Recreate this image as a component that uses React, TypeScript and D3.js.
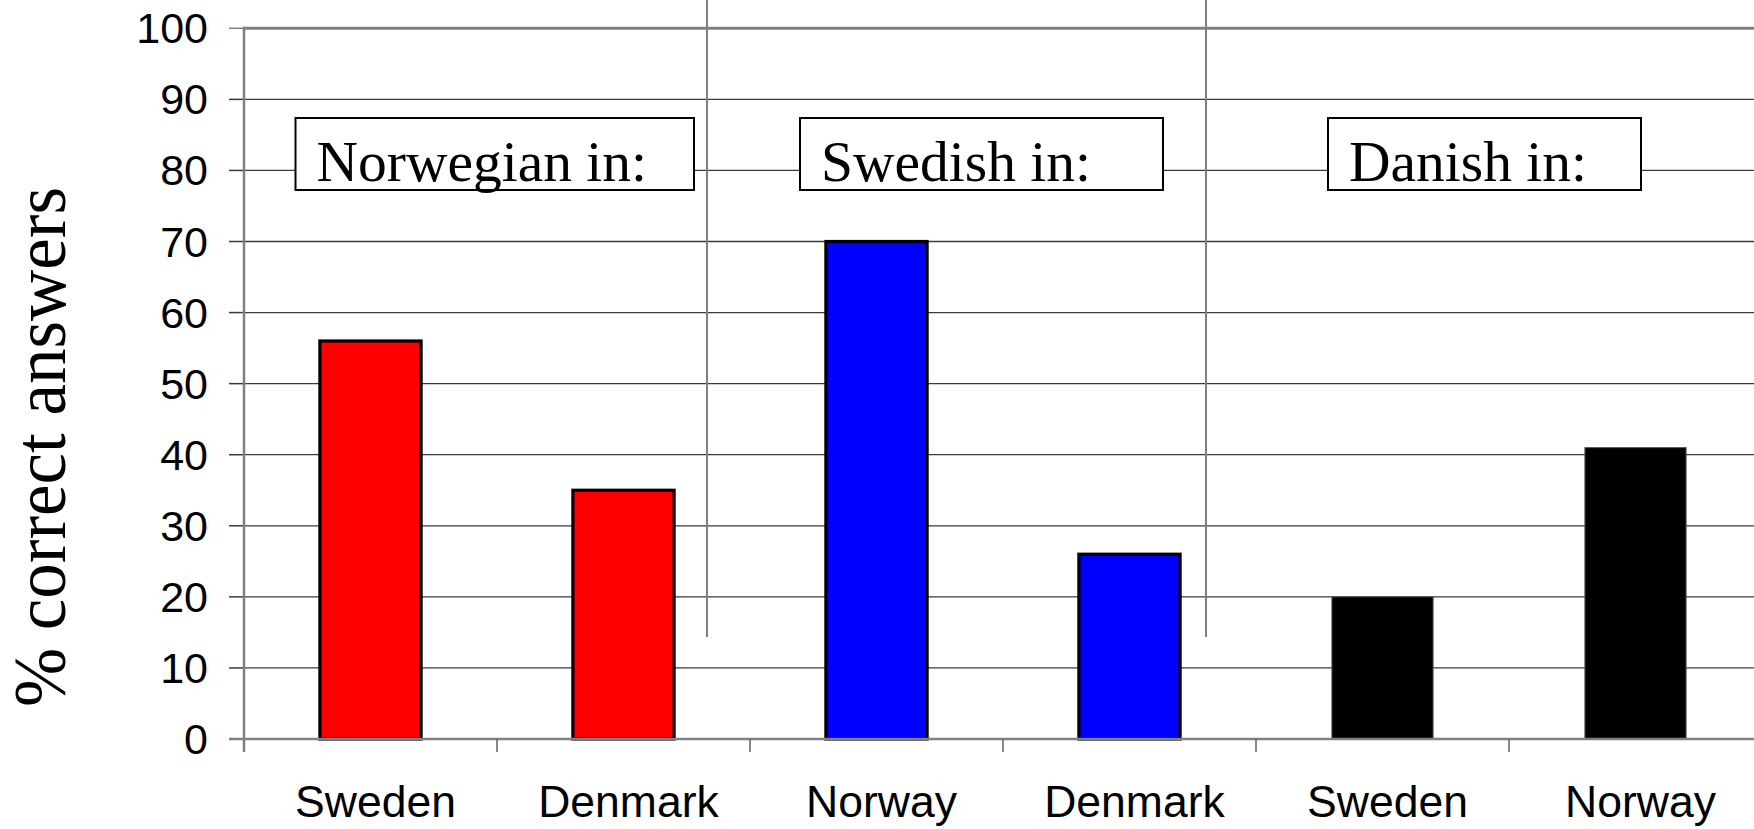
import React from "react";
import * as d3 from "d3";

// ---- data ----
const categories: string[] = ["Sweden", "Denmark", "Norway", "Denmark", "Sweden", "Norway"];
const values: number[] = [56, 35, 70, 26, 20, 41];
const groupOfBar: number[] = [0, 0, 1, 1, 2, 2];
const groupLabels: string[] = ["Norwegian in:", "Swedish in:", "Danish in:"];
const groupColors: string[] = ["#ff0000", "#0000ff", "#000000"];
const yTicks: number[] = [0, 10, 20, 30, 40, 50, 60, 70, 80, 90, 100];
const yTitle = "% correct answers";

// ---- layout ----
const W = 1754;
const H = 829;
const plotLeft = 244;
const step = 253;
const plotRight = plotLeft + step * categories.length;
const yBottom = 739;
const yTop = 28.3;
const boxLayout = [
  { x0: 295.5, x1: 694 },
  { x0: 800, x1: 1163 },
  { x0: 1328, x1: 1641 },
];
const boxTop = 118;
const boxBottom = 190;
const separatorsX = [707, 1206];
const separatorBottom = 637;

export default function App() {
  const x = d3
    .scaleBand<number>()
    .domain(d3.range(categories.length))
    .range([plotLeft, plotRight])
    .paddingInner(0.6)
    .paddingOuter(0.3);
  const y = d3.scaleLinear().domain([0, 100]).range([yBottom, yTop]);
  const bw = x.bandwidth();

  const boundaries = d3.range(categories.length + 1).map((i) => plotLeft + i * x.step());

  return (
    <svg
      width={W}
      height={H}
      style={{ position: "absolute", left: 0, top: 0, background: "#fff" }}
    >
      <rect x={0} y={0} width={W} height={H} fill="#fff" />
      {/* gridlines */}
      {yTicks
        .filter((t) => t > 0 && t < 100)
        .map((t) => (
          <line
            key={"g" + t}
            x1={plotLeft}
            x2={W}
            y1={y(t)}
            y2={y(t)}
            stroke="#3a3a3a"
            strokeWidth={1.3}
          />
        ))}
      {/* top border */}
      <line x1={plotLeft} x2={W} y1={y(100)} y2={y(100)} stroke="#808080" strokeWidth={3} />
      {/* y tick marks */}
      {yTicks.map((t) => (
        <line
          key={"yt" + t}
          x1={229}
          x2={plotLeft}
          y1={y(t)}
          y2={y(t)}
          stroke={t === 0 || t === 100 ? "#808080" : "#3a3a3a"}
          strokeWidth={1.5}
        />
      ))}
      {/* separators */}
      {separatorsX.map((sx, i) => (
        <line
          key={"s" + i}
          x1={sx}
          x2={sx}
          y1={0}
          y2={separatorBottom}
          stroke="#808080"
          strokeWidth={2}
        />
      ))}
      {/* group label boxes */}
      {groupLabels.map((lab, i) => (
        <g key={"b" + i}>
          <rect
            x={boxLayout[i].x0}
            y={boxTop}
            width={boxLayout[i].x1 - boxLayout[i].x0}
            height={boxBottom - boxTop}
            fill="#fff"
            stroke="#000"
            strokeWidth={2}
          />
          <text
            x={boxLayout[i].x0 + 21}
            y={181}
            fontFamily="'Liberation Serif', 'Times New Roman', serif"
            fontSize={57.5}
            fill="#000"
          >
            {lab}
          </text>
        </g>
      ))}
      {/* bars */}
      {values.map((v, i) => {
        const g = groupOfBar[i];
        const isBlack = g === 2;
        return (
          <rect
            key={"bar" + i}
            x={x(i)!}
            y={y(v)}
            width={bw}
            height={y(0) - y(v)}
            fill={groupColors[g]}
            stroke={isBlack ? "#555" : "#000"}
            strokeWidth={isBlack ? 1 : 3.2}
          />
        );
      })}
      {/* axes */}
      <line x1={plotLeft} x2={plotLeft} y1={y(100) - 1.5} y2={752} stroke="#808080" strokeWidth={2.5} />
      <line x1={229} x2={W} y1={yBottom} y2={yBottom} stroke="#808080" strokeWidth={2.5} />
      {boundaries.slice(1).map((bx, i) => (
        <line
          key={"xt" + i}
          x1={bx}
          x2={bx}
          y1={yBottom}
          y2={752}
          stroke="#606060"
          strokeWidth={1.5}
        />
      ))}
      {/* y tick labels */}
      {yTicks.map((t) => (
        <text
          key={"yl" + t}
          x={208}
          y={y(t)}
          dy="0.35em"
          textAnchor="end"
          fontFamily="'Liberation Sans', Arial, sans-serif"
          fontSize={43}
          fill="#000"
        >
          {t}
        </text>
      ))}
      {/* category labels */}
      {categories.map((c, i) => (
        <text
          key={"cl" + i}
          x={x(i)! + bw / 2 + 5}
          y={817}
          textAnchor="middle"
          fontFamily="'Liberation Sans', Arial, sans-serif"
          fontSize={44.5}
          fill="#000"
        >
          {c}
        </text>
      ))}
      {/* y title */}
      <text
        transform={`translate(65, 447) rotate(-90)`}
        textAnchor="middle"
        fontFamily="'Liberation Serif', 'Times New Roman', serif"
        fontSize={74}
        textLength={520}
        lengthAdjust="spacingAndGlyphs"
        fill="#000"
      >
        {yTitle}
      </text>
    </svg>
  );
}
